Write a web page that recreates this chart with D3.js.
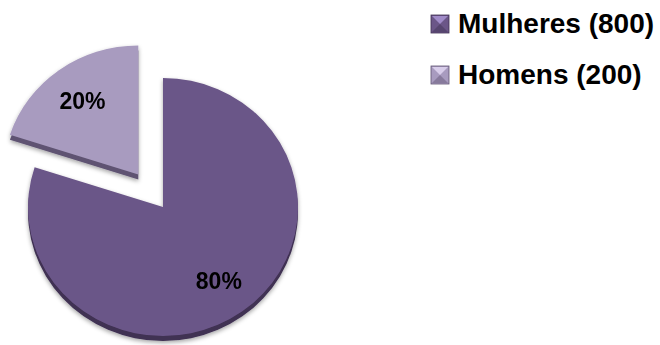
<!DOCTYPE html>
<html>
<head>
<meta charset="utf-8">
<script src="https://cdn.jsdelivr.net/npm/d3@7"></script>
<style>
  body { margin: 0; background: #fff; }
  text { font-family: "Liberation Sans", Arial, sans-serif; font-weight: bold; fill: #000; }
</style>
</head>
<body>
<svg id="chart" width="660" height="345"></svg>
<script>
// data
const categories = ["Mulheres", "Homens"];
const values = [800, 200];
const legendLabels = ["Mulheres (800)", "Homens (200)"];
const explode = [0, 42];

const svg = d3.select("#chart");

// colours
const topColor = d3.scaleOrdinal().domain(categories).range(["#6b5688", "#a89bbf"]);
const sideColor = d3.scaleOrdinal().domain(categories).range(["#3f3052", "#5f5372"]);
const markTop = d3.scaleOrdinal().domain(categories).range(["#a08bc8", "#d8cdea"]);

const cx = 163, cy = 207;
const rx = 135, ry = 129;
const k = ry / rx;   // tilt
const depth = 5;

const defs = svg.append("defs");
const shadow = defs.append("filter").attr("id", "shadow")
  .attr("x", "-20%").attr("y", "-20%").attr("width", "140%").attr("height", "140%");
shadow.append("feDropShadow")
  .attr("dx", 0).attr("dy", 2).attr("stdDeviation", 2)
  .attr("flood-color", "#000").attr("flood-opacity", 0.35);

const pie = d3.pie().sort(null).startAngle(0).endAngle(2 * Math.PI);
const arcs = pie(values);

const arc = d3.arc().innerRadius(0).outerRadius(rx);
const labelArc = d3.arc().innerRadius(95).outerRadius(95);

function offset(d, i) {
  const mid = (d.startAngle + d.endAngle) / 2;
  return [Math.sin(mid) * explode[i], -Math.cos(mid) * explode[i]];
}

const slices = svg.append("g")
  .attr("filter", "url(#shadow)")
  .selectAll("g")
  .data(arcs)
  .enter()
  .append("g")
  .attr("transform", (d, i) => {
    const o = offset(d, i);
    return `translate(${cx + o[0]},${cy + o[1] * k})`;
  });

// side (depth) then top face
slices.append("path")
  .attr("transform", `translate(0,${depth}) scale(1,${k})`)
  .attr("d", arc)
  .attr("fill", (d, i) => sideColor(categories[i]));

slices.append("path")
  .attr("transform", `scale(1,${k})`)
  .attr("d", arc)
  .attr("fill", (d, i) => topColor(categories[i]));

// percent labels
const total = d3.sum(values);
slices.append("text")
  .attr("x", d => labelArc.centroid(d)[0])
  .attr("y", d => labelArc.centroid(d)[1] * k)
  .attr("dy", "0.36em")
  .attr("text-anchor", "middle")
  .style("font-size", "23px")
  .text(d => d3.format(".0%")(d.value / total));

// legend
const legend = svg.append("g")
  .selectAll("g")
  .data(categories)
  .enter()
  .append("g")
  .attr("transform", (d, i) => `translate(431,${15 + i * 51})`);

const m = 18;
legend.append("rect")
  .attr("width", m).attr("height", m)
  .attr("fill", d => topColor(d))
  .attr("stroke", d => sideColor(d)).attr("stroke-width", 0.8);
legend.append("path")
  .attr("d", `M1,1L${m - 1},1L${m / 2},${m / 2}Z`)
  .attr("fill", d => markTop(d));
legend.append("path")
  .attr("d", `M1,${m - 1}L${m - 1},${m - 1}L${m / 2},${m / 2}Z`)
  .attr("fill", d => sideColor(d)).attr("opacity", 0.45);

legend.append("text")
  .attr("x", 27)
  .attr("y", 18)
  .style("font-size", "28px")
  .text((d, i) => legendLabels[i]);
</script>
</body>
</html>
